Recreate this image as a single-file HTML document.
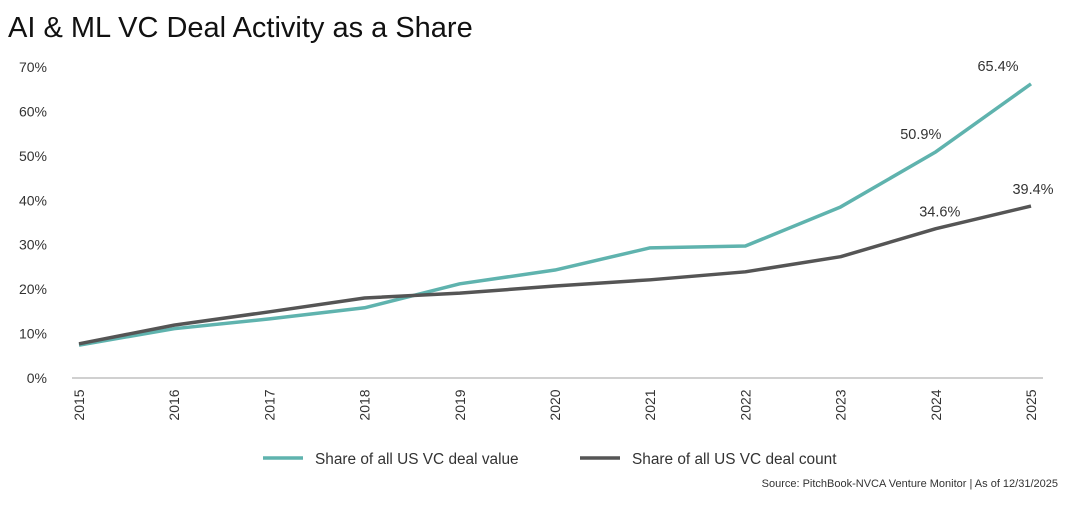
<!DOCTYPE html>
<html><head><meta charset="utf-8"><style>
body{margin:0;background:#fff;font-family:"Liberation Sans",sans-serif;}
</style></head><body>
<svg width="1080" height="507" xmlns="http://www.w3.org/2000/svg" id="chart">
<text x="8" y="37" font-size="29" fill="#111">AI &amp; ML VC Deal Activity as a Share</text>
<g id="yaxis"></g>
<g id="xaxis"></g>
<g id="series"></g>
<g>
<line x1="263" y1="458" x2="303" y2="458" stroke="#5fb3ae" stroke-width="3.5"/>
<text x="315" y="464" font-size="15.4" fill="#333">Share of all US VC deal value</text>
<line x1="580" y1="458" x2="620" y2="458" stroke="#555" stroke-width="3.5"/>
<text x="632" y="464" font-size="15.4" fill="#333">Share of all US VC deal count</text>
</g>
<text x="1058" y="487" font-size="11" fill="#333" text-anchor="end">Source: PitchBook-NVCA Venture Monitor | As of 12/31/2025</text>
</svg>
<script>
const years=["2015","2016","2017","2018","2019","2020","2021","2022","2023","2024","2025"];
const valueShare=[7.4,11.1,13.3,15.8,21.2,24.3,29.3,29.7,38.5,50.9,66.2];
const countShare=[7.7,11.9,14.9,18.0,19.1,20.7,22.1,23.9,27.3,33.6,38.7];
const yTicks=[0,10,20,30,40,50,60,70];
const valueLabels={9:"50.9%",10:"65.4%"};
const countLabels={9:"34.6%",10:"39.4%"};
const NS="http://www.w3.org/2000/svg";
const x=i=>79+i*95.2;
const y=v=>378-v*4.443;
function mk(tag,attrs,parent){const e=document.createElementNS(NS,tag);for(const k in attrs)e.setAttribute(k,attrs[k]);parent.appendChild(e);return e;}
const ya=document.getElementById('yaxis'),xa=document.getElementById('xaxis'),se=document.getElementById('series');
yTicks.forEach(t=>{const e=mk('text',{x:47,y:y(t)+5,'font-size':14,fill:'#333','text-anchor':'end'},ya);e.textContent=t+'%';

});
const ax=mk('line',{x1:72,x2:1043,y1:378,y2:378,stroke:'#d0d0d0','stroke-width':2},xa);


years.forEach((yr,i)=>{const e=mk('text',{transform:`translate(${x(i)+5},405) rotate(-90)`,'font-size':14,fill:'#333','text-anchor':'middle'},xa);e.textContent=yr;

});
function line(vals,color,name){const p=mk('polyline',{points:vals.map((v,i)=>x(i)+','+y(v)).join(' '),fill:'none',stroke:color,'stroke-width':3.5,'stroke-linejoin':'round'},se);

}
line(valueShare,'#5fb3ae','line-deal-value');
line(countShare,'#555555','line-deal-count');
function labels(map,vals,name,dxs,dy){for(const k in map){const i=+k;const e=mk('text',{x:x(i)+dxs[k],y:y(vals[i])+dy,'font-size':14.5,fill:'#333','text-anchor':'middle'},se);e.textContent=map[k];

}}
labels(valueLabels,valueShare,'value-data-label',{9:-15,10:-33},-13);
labels(countLabels,countShare,'count-data-label',{9:4,10:2},-12);
</script>
</body></html>
